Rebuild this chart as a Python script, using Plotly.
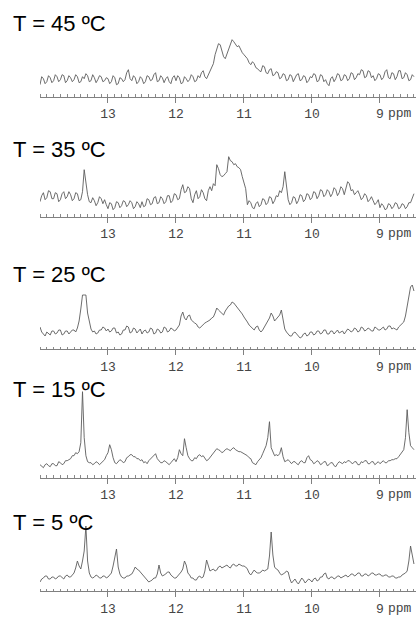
import plotly.graph_objects as go

# ppm sampling grid of the spectra (high field to the right)
PPM_START = 14.0
PPM_STEP = 0.025

TITLES = ["T = 45 ºC", "T = 35 ºC", "T = 25 ºC", "T = 15 ºC", "T = 5 ºC"]
TICK_VALUES = [13, 12, 11, 10, 9]
TICK_LABELS = ["13", "12", "11", "10", "9"]
UNIT = "ppm"

# intensities (arbitrary units), 14.000 -> 8.500 ppm, 0.025 ppm steps
I45 = [12, 20, 18, 13, 15, 21, 19, 14, 16, 22, 20, 15, 17, 22, 21, 14, 16, 21, 19, 15,
       17, 22, 20, 14, 15, 20, 18, 23, 21, 15, 16, 22, 19, 14, 17, 21, 20, 15, 16, 19,
       18, 13, 15, 21, 19, 12, 13, 19, 18, 15, 17, 24, 27, 18, 16, 21, 19, 13, 15, 20,
       18, 13, 15, 21, 20, 16, 17, 22, 24, 15, 16, 21, 19, 14, 18, 20, 15, 13, 19, 21,
       16, 21, 19, 13, 14, 20, 18, 15, 17, 22, 20, 15, 16, 21, 19, 24, 26, 20, 18, 22,
       25, 29, 33, 42, 47, 53, 52, 45, 40, 38, 43, 49, 52, 57, 55, 53, 50, 51, 47, 44,
       42, 40, 38, 34, 32, 35, 33, 29, 28, 26, 25, 31, 30, 24, 23, 27, 28, 21, 22, 25,
       24, 18, 19, 23, 22, 16, 17, 22, 21, 15, 18, 22, 23, 16, 17, 21, 20, 14, 16, 20,
       19, 23, 22, 15, 16, 22, 21, 15, 17, 13, 11, 18, 20, 15, 18, 23, 22, 16, 17, 22,
       21, 16, 18, 24, 23, 17, 19, 23, 22, 27, 26, 19, 20, 26, 25, 19, 21, 16, 18, 23,
       22, 17, 19, 25, 27, 19, 18, 24, 23, 17, 20, 26, 26, 18, 19, 24, 22, 16, 17, 22,
       20]

I35 = [15, 21, 24, 17, 19, 26, 25, 18, 18, 24, 23, 15, 17, 23, 25, 18, 20, 25, 22, 16,
       18, 24, 23, 16, 17, 25, 47, 33, 22, 15, 14, 19, 16, 11, 14, 20, 18, 13, 17, 12,
       8, 14, 13, 7, 9, 15, 14, 9, 11, 16, 15, 10, 12, 16, 14, 8, 10, 15, 13, 9,
       15, 10, 11, 18, 17, 12, 13, 19, 20, 13, 14, 20, 18, 13, 15, 21, 21, 14, 16, 23,
       22, 17, 18, 27, 32, 24, 25, 30, 28, 18, 14, 22, 26, 18, 20, 27, 24, 18, 16, 26,
       30, 26, 33, 31, 52, 48, 42, 40, 41, 43, 45, 60, 56, 55, 52, 53, 50, 49, 47, 40,
       33, 28, 12, 16, 14, 9, 8, 13, 15, 10, 12, 18, 17, 12, 14, 20, 19, 13, 16, 21,
       20, 26, 24, 30, 45, 28, 17, 12, 14, 20, 19, 13, 16, 22, 21, 15, 17, 23, 22, 17,
       19, 25, 24, 18, 21, 27, 26, 20, 22, 27, 25, 20, 23, 29, 27, 21, 24, 30, 28, 22,
       30, 35, 33, 26, 27, 22, 24, 26, 22, 17, 19, 23, 21, 15, 17, 20, 16, 12, 14, 17,
       9, 13, 11, 7, 8, 13, 12, 8, 10, 14, 13, 8, 9, 13, 12, 8, 10, 14, 14, 18,
       23]

I25 = [22, 17, 15, 13, 17, 15, 14, 18, 18, 15, 16, 19, 19, 14, 15, 18, 18, 15, 17, 19,
       19, 17, 21, 28, 40, 54, 54, 54, 36, 26, 20, 17, 18, 15, 16, 19, 19, 22, 21, 18,
       20, 17, 18, 21, 21, 16, 17, 14, 15, 19, 19, 23, 22, 16, 17, 21, 20, 16, 18, 20,
       15, 18, 19, 16, 17, 21, 20, 15, 16, 20, 19, 16, 17, 22, 21, 17, 18, 21, 20, 18,
       19, 21, 24, 33, 37, 31, 29, 33, 34, 29, 27, 26, 25, 22, 21, 23, 24, 26, 27, 28,
       29, 31, 32, 36, 41, 39, 37, 35, 34, 38, 41, 43, 44, 47, 46, 44, 41, 39, 37, 35,
       32, 30, 27, 24, 22, 20, 19, 22, 23, 19, 17, 19, 22, 25, 27, 31, 36, 33, 28, 30,
       33, 34, 39, 28, 20, 17, 15, 13, 13, 16, 17, 15, 14, 11, 12, 15, 16, 13, 14, 17,
       17, 14, 15, 18, 18, 15, 16, 19, 19, 15, 15, 18, 18, 15, 17, 19, 16, 17, 18, 15,
       17, 20, 19, 17, 18, 21, 20, 17, 18, 22, 21, 18, 19, 21, 20, 18, 18, 22, 21, 19,
       19, 21, 22, 19, 20, 23, 23, 20, 21, 20, 19, 22, 24, 25, 27, 33, 42, 55, 62, 64,
       58]

I15 = [13, 11, 10, 13, 14, 12, 11, 14, 14, 12, 12, 16, 15, 13, 14, 17, 17, 18, 19, 22,
       22, 25, 24, 26, 35, 86, 40, 22, 16, 15, 15, 13, 14, 16, 15, 13, 15, 17, 18, 22,
       25, 33, 28, 20, 15, 14, 16, 18, 17, 15, 16, 20, 21, 23, 23, 21, 21, 19, 19, 17,
       18, 15, 16, 14, 17, 19, 21, 23, 24, 19, 17, 15, 15, 17, 16, 14, 13, 15, 17, 19,
       16, 20, 28, 24, 22, 39, 30, 22, 19, 17, 17, 20, 19, 22, 23, 21, 22, 19, 17, 18,
       20, 23, 24, 27, 29, 28, 27, 25, 26, 28, 29, 28, 27, 29, 30, 28, 27, 26, 26, 25,
       24, 23, 22, 20, 19, 15, 14, 13, 16, 18, 20, 24, 28, 32, 40, 56, 30, 26, 22, 23,
       22, 24, 30, 21, 16, 17, 18, 16, 14, 16, 16, 14, 13, 16, 17, 15, 15, 20, 22, 18,
       17, 14, 15, 17, 16, 13, 14, 16, 16, 12, 13, 15, 15, 12, 11, 14, 16, 15, 14, 16,
       15, 17, 17, 15, 14, 16, 16, 13, 13, 16, 15, 17, 17, 14, 14, 16, 16, 13, 15, 16,
       14, 16, 17, 15, 15, 17, 17, 18, 18, 19, 19, 21, 23, 25, 28, 40, 68, 45, 32, 30,
       28]

I5 = [9, 12, 13, 15, 15, 12, 12, 14, 14, 12, 13, 15, 15, 13, 12, 15, 16, 14, 14, 16,
      18, 23, 30, 25, 22, 30, 40, 65, 30, 18, 14, 13, 14, 16, 15, 13, 13, 15, 15, 13,
      14, 16, 18, 25, 35, 42, 24, 17, 14, 13, 13, 15, 15, 16, 17, 20, 24, 22, 21, 19,
      17, 14, 12, 10, 9, 10, 11, 13, 13, 17, 26, 18, 15, 16, 17, 19, 19, 16, 14, 13,
      13, 15, 16, 19, 22, 30, 26, 18, 16, 13, 13, 11, 11, 14, 15, 13, 14, 20, 31, 24,
      20, 21, 22, 20, 21, 24, 25, 23, 24, 25, 26, 24, 23, 26, 27, 25, 25, 27, 26, 25,
      25, 24, 22, 18, 16, 19, 21, 19, 18, 18, 19, 21, 20, 21, 22, 35, 59, 36, 24, 22,
      21, 18, 16, 17, 18, 20, 19, 12, 8, 10, 12, 9, 7, 10, 13, 11, 8, 10, 12, 11,
      9, 12, 13, 10, 11, 14, 14, 17, 18, 13, 12, 14, 14, 12, 13, 15, 15, 13, 14, 15,
      16, 14, 15, 17, 17, 15, 16, 18, 18, 15, 15, 17, 17, 15, 16, 18, 18, 16, 16, 17,
      17, 15, 15, 16, 16, 14, 14, 15, 15, 13, 13, 14, 14, 16, 17, 18, 20, 30, 45, 35,
      27]

SPECTRA = [I45, I35, I25, I15, I5]

W, H = 417, 618
AXIS_Y = [96.7, 216.7, 349.0, 477.7, 591.0]     # pixel row of each ppm axis
TITLE_TOP = [9.3, 135.0, 260.0, 375.0, 508.0]
PANEL_H = 95.0
X_LEFT, X_RIGHT = 40.0, 416.0
PPM_RANGE = [14.0, 8.47]

fig = go.Figure()
layout_axes = {}
annotations = []

for k, (title, vals) in enumerate(zip(TITLES, SPECTRA)):
    n = k + 1
    sfx = "" if n == 1 else str(n)
    ppm = [PPM_START - PPM_STEP * i for i in range(len(vals))]
    fig.add_trace(go.Scatter(
        x=ppm, y=vals, mode="lines",
        line=dict(color="#5c5c5c", width=0.9),
        xaxis="x" + sfx, yaxis="y" + sfx,
        showlegend=False, hoverinfo="skip",
    ))
    a = AXIS_Y[k]
    layout_axes["xaxis" + sfx] = dict(
        domain=[X_LEFT / W, X_RIGHT / W],
        range=PPM_RANGE,
        anchor="y" + sfx,
        showline=True, linecolor="#808080", linewidth=1,
        showgrid=False, zeroline=False,
        tickmode="array", tickvals=TICK_VALUES, ticktext=TICK_LABELS,
        ticks="outside", ticklen=5, tickwidth=1, tickcolor="#808080",
        minor=dict(tickmode="linear", tick0=0, dtick=0.1, ticks="inside",
                   ticklen=2.5, tickwidth=1, tickcolor="#8a8a8a", showgrid=False),
        tickfont=dict(family="Liberation Mono", size=13, color="#454545"),
        ticklabelstandoff=0,
        fixedrange=True,
    )
    layout_axes["yaxis" + sfx] = dict(
        domain=[1 - a / H, 1 - (a - PANEL_H) / H],
        range=[0, PANEL_H],
        anchor="x" + sfx,
        visible=False, fixedrange=True,
    )
    annotations.append(dict(
        text=title, xref="paper", yref="paper",
        x=11 / W, y=1 - TITLE_TOP[k] / H,
        xanchor="left", yanchor="top", showarrow=False,
        font=dict(family="Liberation Sans", size=22, color="#000000"),
    ))
    annotations.append(dict(
        text=UNIT, xref="paper", yref="paper",
        x=400 / W, y=1 - (a + 17.0) / H,
        xanchor="center", yanchor="middle", showarrow=False,
        font=dict(family="Liberation Mono", size=13, color="#454545"),
    ))

fig.update_layout(
    width=W, height=H,
    margin=dict(l=0, r=0, t=0, b=0),
    paper_bgcolor="white", plot_bgcolor="white",
    annotations=annotations,
    **layout_axes,
)

fig.write_html(
    "out.html",
    config={"displayModeBar": False, "staticPlot": True},
    post_script="document.body.style.margin='0';document.body.style.overflow='hidden';",
)
